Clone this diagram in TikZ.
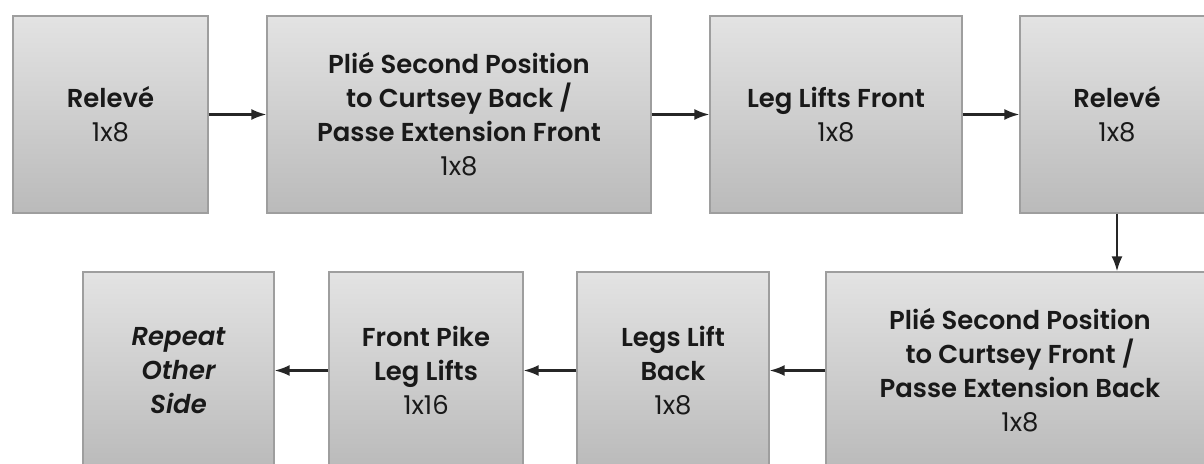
\documentclass[tikz,border=0pt]{standalone}
\usepackage{fontspec}
\setmainfont{Poppins}[BoldFont={Poppins SemiBold}, BoldItalicFont={Poppins SemiBold Italic}]
\usetikzlibrary{arrows.meta}
\begin{document}
\begin{tikzpicture}[x=1bp,y=1bp,
  stepbox/.style={draw=black!38, line width=1.2bp, top color=black!11, bottom color=black!27,
    shading angle=0, inner sep=0pt, minimum height=197bp, align=center,
    text=black!90, font=\fontsize{26}{34}\selectfont\bfseries},
  flow/.style={line width=2.2bp, draw=black!85, -{Latex[length=15bp,width=11bp]}}]
  \useasboundingbox (0,0) rectangle (1204,-464);
  \clip (0,0) rectangle (1204,-464);
  % top row, left to right
  \node[stepbox, minimum width=195bp] (b1) at (110.5,-114.5) {Relevé\\{\mdseries 1x8}};
  \node[stepbox, minimum width=384bp] (b2) at (459,-114.5)
    {Plié Second Position\\to Curtsey Back /\\Passe Extension Front\\{\mdseries 1x8}};
  \node[stepbox, minimum width=252bp] (b3) at (836,-114.5) {Leg Lifts Front\\{\mdseries 1x8}};
  \node[stepbox, minimum width=194bp] (b4) at (1117,-114.5) {Relevé\\{\mdseries 1x8}};
  % bottom row, right to left
  \node[stepbox, minimum width=388bp] (b5) at (1020,-370.5)
    {Plié Second Position\\to Curtsey Front /\\Passe Extension Back\\{\mdseries 1x8}};
  \node[stepbox, minimum width=192bp] (b6) at (673,-370.5) {Legs Lift\\Back\\{\mdseries 1x8}};
  \node[stepbox, minimum width=194bp] (b7) at (426,-370.5) {Front Pike\\Leg Lifts\\{\mdseries 1x16}};
  \node[stepbox, minimum width=191bp, font=\fontsize{26}{34}\selectfont\bfseries\itshape] (b8) at (178.5,-370.5)
    {Repeat\\Other\\Side};
  % connectors
  \draw[flow] (b1) -- (b2);
  \draw[flow] (b2) -- (b3);
  \draw[flow] (b3) -- (b4);
  \draw[flow] (b4.south) -- (b4.south |- b5.north);
  \draw[flow] (b5) -- (b6);
  \draw[flow] (b6) -- (b7);
  \draw[flow] (b7) -- (b8);
\end{tikzpicture}
\end{document}
